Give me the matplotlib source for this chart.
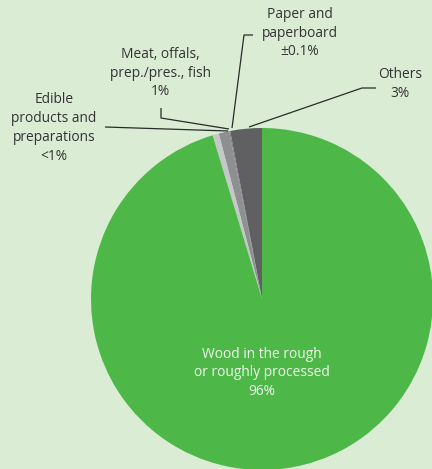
import matplotlib.pyplot as plt

# Shares of exports by product group (%)
labels = ['Others', 'Paper and paperboard', 'Meat, offals, prep./pres., fish',
          'Edible products and preparations', 'Wood in the rough or roughly processed']
shares = [3, 0.1, 1, 0.6, 96]
colors = ['#606062', '#7a7a7c', '#8e8f91', '#c6c7c9', '#4db848']

BG = '#dbecd5'
TXT = '#333333'

fig = plt.figure(figsize=(4.32, 4.69), dpi=100, facecolor=BG)
ax = fig.add_axes([0, 0, 1, 1])
ax.set_facecolor(BG)

H = 469
cx, cy, r = 262, H - 299, 171
ax.pie(shares, colors=colors, startangle=90, counterclock=True,
       center=(cx, cy), radius=r, frame=True,
       wedgeprops=dict(linewidth=0))
ax.set_xlim(0, 432)
ax.set_ylim(0, 469)
ax.set_aspect('equal')
ax.axis('off')

plt.rcParams['font.family'] = 'Open Sans'
fs = 9.9
ls = 1.35

# leader lines (image coords, y flipped)
def leader(xs, ys):
    ax.plot(xs, [H - y for y in ys], color='#2a2a2a', lw=0.9, solid_capstyle='butt')

leader([249, 362, 376], [127, 88, 88])           # Others
leader([232, 244, 253], [128, 35, 35])           # Paper
leader([229, 161, 161], [129, 118, 108])         # Meat
leader([228, 105], [131, 127])                   # Edible

ax.text(400, H - 84, 'Others\n3%', ha='center', va='center', fontsize=fs,
        color=TXT, linespacing=ls)
ax.text(300, H - 33, 'Paper and\npaperboard\n±0.1%', ha='center', va='center',
        fontsize=fs, color=TXT, linespacing=ls)
ax.text(160, H - 73, 'Meat, offals,\nprep./pres., fish\n1%', ha='center', va='center',
        fontsize=fs, color=TXT, linespacing=ls)
ax.text(54, H - 128, 'Edible\nproducts and\npreparations\n<1%', ha='center', va='center',
        fontsize=fs, color=TXT, linespacing=ls)
ax.text(262, H - 373, 'Wood in the rough\nor roughly processed\n96%', ha='center',
        va='center', fontsize=fs, color='#f2f8ee', linespacing=ls)

fig.savefig('out.png', dpi=100, facecolor=BG)
